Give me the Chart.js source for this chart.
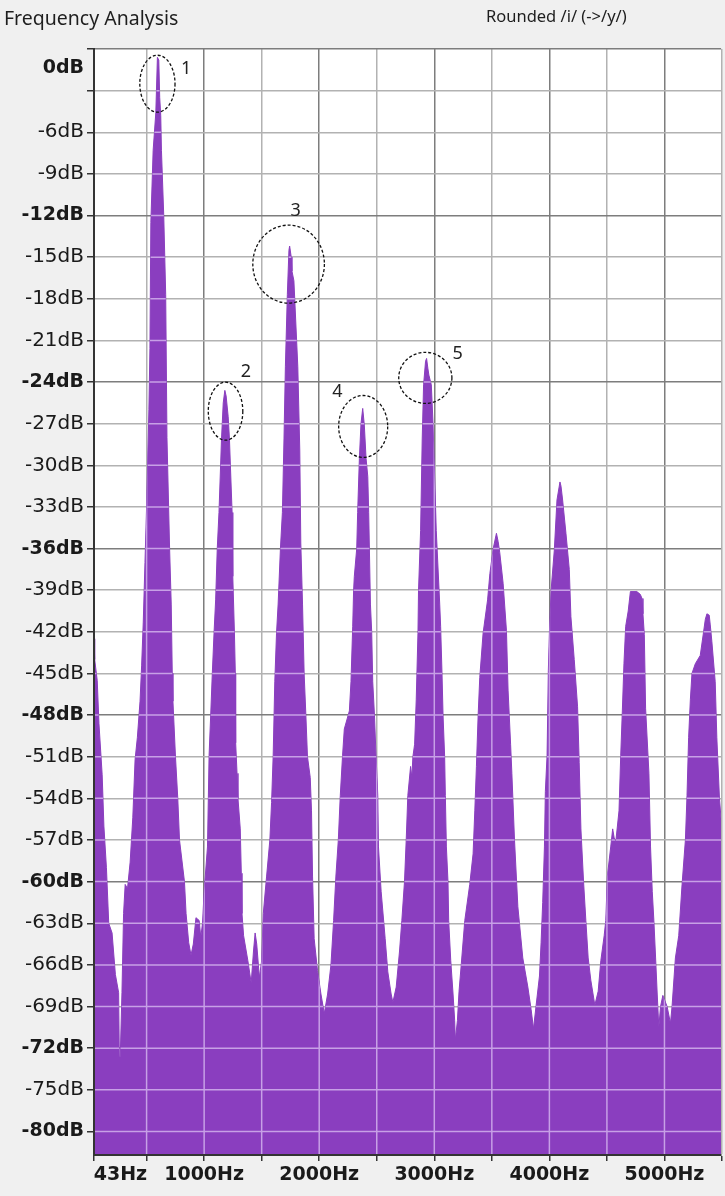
<!DOCTYPE html>
<html>
<head>
<meta charset="utf-8">
<script src="https://cdn.jsdelivr.net/npm/chart.js@4.4.1/dist/chart.umd.min.js"></script>
<style>
  html, body { margin: 0; padding: 0; background: #f0f0f0; }
  canvas { display: block; }
</style>
</head>
<body>
<canvas id="grafico" width="725" height="1196"></canvas>
<script>
// Textos
const titulo = 'Frequency Analysis';
const subtitulo = 'Rounded /i/ (->/y/)';

// Espectro: frecuencia (Hz) y nivel (dB)
const frecuencias = [
  43, 49, 71, 86, 114, 129, 151, 171, 200, 229, 257, 263, 271, 286, 300, 314, 334, 357, 380, 400, 420, 443, 457, 471,
  486, 500, 520, 529, 537, 557, 580, 594, 606, 614, 623, 629, 649, 666, 677, 700, 714,
  723, 729, 751, 771, 786, 829, 843, 866, 886, 906, 929, 957, 971, 986, 1000, 1029, 1043, 1057, 1071, 1086, 1100,
  1114, 1129, 1151, 1166, 1180, 1191, 1209, 1220, 1229, 1243, 1249,
  1263, 1271, 1274, 1286, 1294, 1314, 1323, 1329, 1343, 1380, 1409, 1429, 1443, 1457, 1480, 1500, 1514, 1543, 1571, 1586, 1600, 1614, 1629,
  1643, 1663, 1680, 1694, 1706, 1723, 1737, 1743, 1757, 1763, 1780, 1814, 1831, 1840, 1855,
  1869, 1884, 1898, 1922, 1933, 1942, 1956, 1985, 2015, 2044, 2073, 2102, 2125, 2145, 2166, 2183, 2203, 2218, 2262, 2276, 2291, 2299,
  2305, 2326, 2334, 2349, 2363, 2378, 2392, 2407, 2422, 2430, 2436, 2445,
  2456, 2465, 2480, 2494, 2509, 2515, 2538, 2573, 2596, 2625, 2640, 2669, 2698, 2718, 2741, 2756, 2770, 2794, 2805, 2814, 2829, 2843, 2858, 2863,
  2881, 2895, 2907, 2924, 2933, 2944, 2953, 2974, 2988, 3003, 3017, 3047,
  3055, 3067, 3076, 3090, 3096, 3105, 3119, 3125, 3143, 3163, 3177, 3183, 3201, 3215, 3235, 3265, 3308, 3337, 3352, 3366, 3381, 3395, 3424,
  3463, 3483, 3512, 3540, 3555, 3569, 3598, 3627, 3641,
  3663, 3674, 3697, 3726, 3769, 3813, 3841, 3862, 3885, 3914, 3928, 3942, 3957, 3965, 3980, 3991, 4000,
  4015, 4043, 4066, 4092, 4101, 4115, 4144, 4173, 4187, 4216,
  4245, 4259, 4274, 4297, 4317, 4337, 4360, 4395, 4424, 4447, 4476, 4490, 4504, 4533, 4550, 4562, 4576, 4605, 4620, 4634, 4648, 4663,
  4685, 4704, 4760, 4790, 4805, 4813, 4825, 4836,
  4865, 4879, 4894, 4908, 4923, 4937, 4951, 4966, 4986, 5023, 5052, 5066, 5095, 5124, 5153, 5182, 5196, 5210, 5225, 5239, 5268, 5311, 5340,
  5355, 5369, 5389, 5398, 5412, 5441, 5455, 5478, 5492
];
const niveles = [
  -42.5, -44, -45.5, -48.6, -52.3, -56, -59, -63, -63.7, -66.7, -68, -72.6, -72.6, -68, -62.3, -60.2, -60.5, -58.6, -55.4, -51.2, -49.6, -47, -44.4, -41.3,
  -37, -33, -26, -21.6, -12.5, -7.3, -4.6, -0.6, -0.8, -3.5, -4.8, -7.3, -12, -17.7, -28, -36, -40,
  -45, -47, -51, -54, -57, -60, -62.3, -64.4, -65.3, -64.5, -62.6, -62.8, -64, -63, -60.7, -57.5, -50.9, -48, -45, -42.1, -39.7,
  -36, -33.4, -28.1, -25.5, -24.6, -25, -26.5, -28.1, -30.2, -33.4, -38,
  -42, -45, -50, -52.2, -54, -56.2, -59.4, -62.3, -63.9, -65.7, -67.3, -65, -63.7, -64.5, -66.9, -65.7, -62.3, -59.6, -57, -54.3, -50.9, -45.6, -42.1,
  -40, -36, -33.4, -28.1, -22.9, -17.7, -14.5, -14.2, -15, -16, -16.7, -22.9, -28.9, -35.6, -40,
  -45, -48, -51, -52.5, -54.9, -59.6, -64.1, -66.4, -68.1, -69.5, -68.1, -66, -62.8, -59.6, -57, -53.8, -50.9, -49, -47.7, -45.6, -41.6, -39,
  -38, -36, -33.4, -29.5, -27, -25.9, -27.1, -29.5, -30.8, -33.4, -36, -40,
  -42, -45.6, -48, -51, -53.8, -57.5, -60.7, -64.1, -66.5, -68.1, -68.7, -67.6, -65, -62.8, -60, -57, -53.8, -51.7, -52.5, -51, -50.1, -46.9, -42.1, -39,
  -34.7, -28.1, -24.2, -22.5, -22.3, -23, -23.5, -24.2, -26.8, -30.8, -34.7, -40,
  -41.6, -45, -48, -51, -53.8, -57.5, -60, -62.8, -65.7, -68.1, -70, -71.4, -70, -67.9, -65.9, -62.8, -60.2, -58, -54.9, -51.7, -48, -45.3, -42.1,
  -39.7, -37.8, -36, -34.9, -35.5, -36.3, -38.5, -41.9, -46.2,
  -50.1, -52.2, -57, -61.8, -65.5, -67.6, -69.2, -70.6, -68.9, -66.8, -64.4, -61.5, -57.5, -53.5, -50.9, -44.8, -42.1,
  -39, -36.1, -32.5, -31.2, -31.5, -32.5, -34.9, -37.5, -40.9, -44,
  -47.4, -51.4, -56.2, -60, -62.8, -65.5, -67.1, -68.9, -67.9, -65.7, -63.9, -62.8, -59.6, -57.5, -56.2, -56.8, -57.2, -54.9, -50.9, -47.7, -44.3, -41.6,
  -40.5, -39.1, -39.1, -39.3, -39.6, -40.7, -42.2, -47.5,
  -52.2, -57.5, -60.7, -62.8, -65.5, -68.1, -70.5, -69, -68.2, -69, -70.2, -69, -65.5, -63.9, -60.2, -57, -53.8, -49.6, -46.9, -45, -44.3, -43.7, -42,
  -41.1, -40.7, -40.8, -41.5, -42.7, -45.6, -49.6, -54, -55.5
];

// Marcas de los ejes
const marcasDb = [0, -3, -6, -9, -12, -15, -18, -21, -24, -27, -30, -33, -36, -39, -42, -45, -48, -51, -54, -57, -60, -63, -66, -69, -72, -75, -78];
const etiquetasY = ['0dB', '', '-6dB', '-9dB', '-12dB', '-15dB', '-18dB', '-21dB', '-24dB', '-27dB', '-30dB', '-33dB', '-36dB', '-39dB',
  '-42dB', '-45dB', '-48dB', '-51dB', '-54dB', '-57dB', '-60dB', '-63dB', '-66dB', '-69dB', '-72dB', '-75dB', '-80dB'];
const marcasHz = [43, 500, 1000, 1500, 2000, 2500, 3000, 3500, 4000, 4500, 5000, 5500];
const etiquetasX = ['43Hz', '', '1000Hz', '', '2000Hz', '', '3000Hz', '', '4000Hz', '', '5000Hz', ''];

// Picos marcados a mano
const numerosPico = ['1', '2', '3', '4', '5'];

const MORADO = '#8a3ebf';
const esMayorDb = v => v % 12 === 0;
const esNegrita = i => esMayorDb(marcasDb[i]) || i === marcasDb.length - 1;

// Fondo gris, área blanca y textos de cabecera
const fondo = {
  id: 'fondo',
  beforeDraw(chart) {
    const c = chart.ctx, a = chart.chartArea;
    c.save();
    c.fillStyle = '#f0f0f0';
    c.fillRect(0, 0, chart.width, chart.height);
    c.fillStyle = '#ffffff';
    c.fillRect(a.left, a.top, a.right - a.left, a.bottom - a.top);
    c.fillStyle = '#1e1e1e';
    c.textBaseline = 'alphabetic';
    c.font = '19.5px "Noto Sans"';
    c.fillText(titulo, 4, 25);
    c.font = '16.5px "Noto Sans"';
    c.fillText(subtitulo, 486, 22);
    c.restore();
  }
};

// Rejilla lila encima del área morada
const rejillaLila = {
  id: 'rejillaLila',
  afterDatasetsDraw(chart) {
    const pts = chart.getDatasetMeta(0).data;
    const a = chart.chartArea, c = chart.ctx;
    const xs = chart.scales.x, ys = chart.scales.y;
    c.save();
    c.beginPath();
    c.rect(a.left, a.top, a.right - a.left, a.bottom - a.top);
    c.clip();
    c.beginPath();
    c.moveTo(pts[0].x, a.bottom);
    pts.forEach(p => c.lineTo(p.x, p.y));
    c.lineTo(pts[pts.length - 1].x, a.bottom);
    c.closePath();
    c.clip();
    c.strokeStyle = '#c7a0e6';
    c.lineWidth = 1.5;
    c.beginPath();
    marcasDb.forEach(v => {
      const y = ys.getPixelForValue(v);
      c.moveTo(a.left, y); c.lineTo(a.right, y);
    });
    marcasHz.slice(1).forEach(v => {
      const x = xs.getPixelForValue(v);
      c.moveTo(x, a.top); c.lineTo(x, a.bottom);
    });
    c.stroke();
    c.restore();
  }
};

// Elipses punteadas y números de los picos
const llamadas = {
  id: 'llamadas',
  afterDraw(chart) {
    const c = chart.ctx, xs = chart.scales.x, ys = chart.scales.y;
    const elipses = [
      { hz: 594, db: -2.5, rHz: 153, rDb: 2.05, tHz: 844, tDb: -1.4 },
      { hz: 1186, db: -26.1, rHz: 150, rDb: 2.09, tHz: 1363, tDb: -23.3 },
      { hz: 1734, db: -15.5, rHz: 311, rDb: 2.81, tHz: 1795, tDb: -11.7 },
      { hz: 2382, db: -27.2, rHz: 213, rDb: 2.23, tHz: 2157, tDb: -24.7 },
      { hz: 2922, db: -23.7, rHz: 231, rDb: 1.84, tHz: 3203, tDb: -22.0 }
    ];
    c.save();
    c.strokeStyle = '#111111';
    c.lineWidth = 1.3;
    c.setLineDash([3, 2]);
    elipses.forEach(e => {
      const cx = xs.getPixelForValue(e.hz), cy = ys.getPixelForValue(e.db);
      const rx = Math.abs(xs.getPixelForValue(e.hz + e.rHz) - cx);
      const ry = Math.abs(ys.getPixelForValue(e.db + e.rDb) - cy);
      c.beginPath();
      c.ellipse(cx, cy, rx, ry, 0, 0, Math.PI * 2);
      c.stroke();
    });
    c.setLineDash([]);
    c.fillStyle = '#222222';
    c.font = '18px "Noto Sans"';
    c.textAlign = 'center';
    c.textBaseline = 'middle';
    elipses.forEach((e, i) => {
      c.fillText(numerosPico[i], xs.getPixelForValue(e.tHz), ys.getPixelForValue(e.tDb));
    });
    c.restore();
  }
};

new Chart(document.getElementById('grafico'), {
  type: 'line',
  data: {
    datasets: [{
      data: frecuencias.map((f, i) => ({ x: f, y: niveles[i] })),
      borderColor: MORADO,
      borderWidth: 1,
      backgroundColor: MORADO,
      fill: 'start',
      pointRadius: 0,
      tension: 0
    }]
  },
  options: {
    responsive: false,
    animation: false,
    devicePixelRatio: 1,
    layout: { padding: { top: 49, left: 0, right: 0, bottom: 0 } },
    plugins: { legend: { display: false }, tooltip: { enabled: false } },
    scales: {
      x: {
        type: 'linear',
        min: 43,
        max: 5492,
        afterBuildTicks: s => { s.ticks = marcasHz.map(v => ({ value: v })); },
        afterFit: s => { s.height = 40; },
        ticks: {
          autoSkip: false,
          maxRotation: 0,
          padding: 3,
          color: '#1a1a1a',
          font: { family: 'DejaVu Sans', size: 19, weight: 'bold' },
          callback: (v, i) => i === 0 ? '        ' + etiquetasX[0] : etiquetasX[i]
        },
        grid: {
          color: c => (c.tick && c.tick.value % 1000 === 0) ? '#7d7d7d' : '#b2b2b2',
          lineWidth: 1.5,
          tickLength: 6,
          tickColor: '#333333',
          tickWidth: 1.5
        },
        border: { color: '#333333', width: 2, z: 1 }
      },
      y: {
        type: 'linear',
        min: -79.7,
        max: 0,
        afterBuildTicks: s => { s.ticks = marcasDb.map(v => ({ value: v })); },
        afterFit: s => { s.width = 94; },
        ticks: {
          autoSkip: false,
          padding: 3,
          color: '#1a1a1a',
          font: c => ({
            family: 'DejaVu Sans',
            size: esNegrita(c.index) ? 19 : 20,
            weight: esNegrita(c.index) ? 'bold' : 'normal',
            lineHeight: 2
          }),
          callback: (v, i) => i === 0 ? ['', etiquetasY[0]] : etiquetasY[i]
        },
        grid: {
          color: c => (c.tick && esMayorDb(c.tick.value)) ? '#7d7d7d' : '#b2b2b2',
          lineWidth: 1.5,
          tickLength: 7,
          tickColor: '#333333',
          tickWidth: 1.5
        },
        border: { color: '#333333', width: 2, z: 1 }
      }
    }
  },
  plugins: [fondo, rejillaLila, llamadas]
});
</script>
</body>
</html>
